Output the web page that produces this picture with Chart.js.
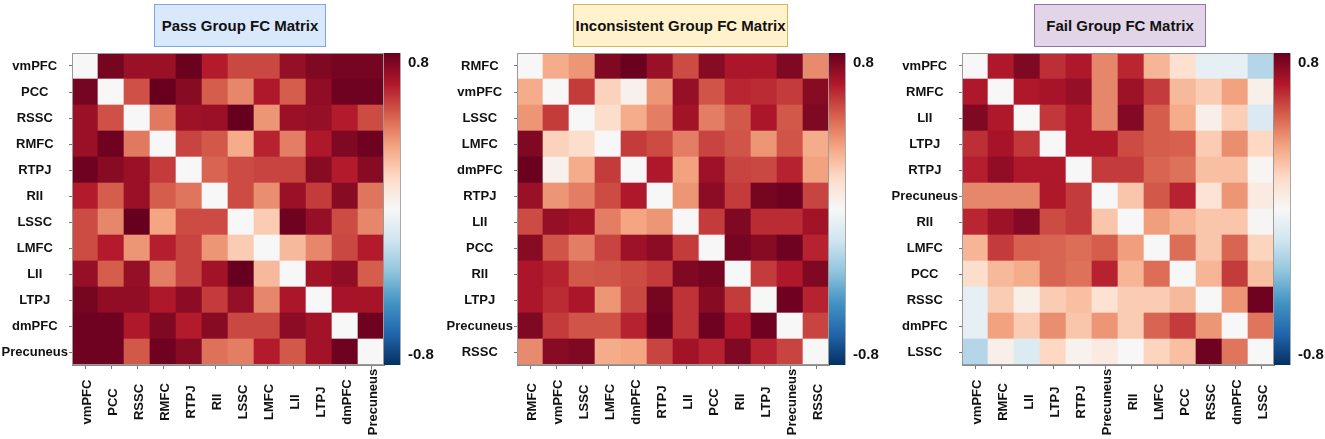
<!DOCTYPE html>
<html><head><meta charset="utf-8">
<script src="https://cdn.jsdelivr.net/npm/chart.js@4.4.0/dist/chart.umd.min.js"></script>
<style>
html,body{margin:0;padding:0;background:#fff;width:1325px;height:439px;overflow:hidden;position:relative;}
.panel{position:absolute;top:0;width:435px;height:439px;}
.title{position:absolute;top:4px;height:43px;box-sizing:border-box;display:flex;align-items:center;justify-content:center;font:bold 15px "Liberation Sans",Arial,sans-serif;color:#111;white-space:nowrap;}
</style></head><body>
<div class="panel" style="left:0px"><canvas id="c1" width="435" height="439"></canvas></div>
<div class="panel" style="left:445px"><canvas id="c2" width="435" height="439"></canvas></div>
<div class="panel" style="left:890px"><canvas id="c3" width="435" height="439"></canvas></div>
<div class="title" style="left:154px;width:172px;background:#dae8fc;border:1.5px solid #7ea6e0">Pass Group FC Matrix</div>
<div class="title" style="left:573px;width:215px;background:#fff2cc;border:1.5px solid #d6b656">Inconsistent Group FC Matrix</div>
<div class="title" style="left:1034px;width:172px;background:#e1d5e7;border:1.5px solid #9673a6">Fail Group FC Matrix</div>
<script>
// ---------- data ----------
const passLabels = ['vmPFC','PCC','RSSC','RMFC','RTPJ','RII','LSSC','LMFC','LII','LTPJ','dmPFC','Precuneus'];
const passValues = [
  [0, 0.82, 0.74, 0.74, 0.85, 0.68, 0.57, 0.57, 0.75, 0.80, 0.82, 0.82],
  [0.82, 0, 0.55, 0.86, 0.78, 0.52, 0.42, 0.69, 0.52, 0.76, 0.84, 0.84],
  [0.74, 0.55, 0, 0.45, 0.73, 0.74, 0.86, 0.38, 0.74, 0.75, 0.68, 0.56],
  [0.74, 0.84, 0.45, 0, 0.58, 0.53, 0.32, 0.66, 0.44, 0.69, 0.80, 0.84],
  [0.84, 0.78, 0.74, 0.60, 0, 0.50, 0.56, 0.58, 0.58, 0.78, 0.68, 0.78],
  [0.68, 0.52, 0.74, 0.52, 0.46, 0, 0.56, 0.40, 0.74, 0.60, 0.78, 0.46],
  [0.56, 0.42, 0.86, 0.34, 0.56, 0.56, 0, 0.22, 0.84, 0.75, 0.56, 0.42],
  [0.56, 0.68, 0.38, 0.67, 0.58, 0.38, 0.22, 0, 0.28, 0.42, 0.57, 0.68],
  [0.75, 0.52, 0.75, 0.44, 0.58, 0.72, 0.86, 0.28, 0, 0.72, 0.76, 0.52],
  [0.82, 0.76, 0.76, 0.69, 0.77, 0.60, 0.75, 0.42, 0.70, 0, 0.71, 0.71],
  [0.84, 0.84, 0.69, 0.80, 0.68, 0.78, 0.57, 0.57, 0.77, 0.72, 0, 0.84],
  [0.84, 0.84, 0.53, 0.84, 0.78, 0.47, 0.44, 0.68, 0.53, 0.72, 0.84, 0]
];
const incLabels = ['RMFC','vmPFC','LSSC','LMFC','dmPFC','RTPJ','LII','PCC','RII','LTPJ','Precuneus','RSSC'];
const incValues = [
  [0, 0.32, 0.38, 0.80, 0.85, 0.74, 0.56, 0.78, 0.70, 0.70, 0.80, 0.41],
  [0.32, 0, 0.60, 0.20, 0.04, 0.38, 0.75, 0.54, 0.65, 0.64, 0.60, 0.78],
  [0.38, 0.60, 0, 0.15, 0.32, 0.44, 0.72, 0.44, 0.53, 0.70, 0.53, 0.80],
  [0.80, 0.20, 0.15, 0, 0.60, 0.56, 0.44, 0.58, 0.54, 0.38, 0.54, 0.32],
  [0.85, 0.04, 0.32, 0.60, 0, 0.69, 0.35, 0.73, 0.58, 0.57, 0.66, 0.35],
  [0.74, 0.38, 0.44, 0.56, 0.69, 0, 0.38, 0.77, 0.60, 0.82, 0.84, 0.58],
  [0.56, 0.75, 0.72, 0.44, 0.34, 0.38, 0, 0.60, 0.80, 0.64, 0.64, 0.72],
  [0.78, 0.54, 0.44, 0.58, 0.73, 0.77, 0.60, 0, 0.82, 0.78, 0.84, 0.66],
  [0.70, 0.66, 0.53, 0.54, 0.56, 0.60, 0.80, 0.82, 0, 0.60, 0.69, 0.80],
  [0.70, 0.64, 0.70, 0.38, 0.57, 0.82, 0.62, 0.78, 0.60, 0, 0.84, 0.66],
  [0.80, 0.60, 0.54, 0.54, 0.66, 0.84, 0.62, 0.84, 0.69, 0.84, 0, 0.58],
  [0.41, 0.78, 0.80, 0.32, 0.34, 0.58, 0.72, 0.66, 0.80, 0.66, 0.58, 0]
];
const failLabels = ['vmPFC','RMFC','LII','LTPJ','RTPJ','Precuneus','RII','LMFC','PCC','RSSC','dmPFC','LSSC'];
const failValues = [
  [0, 0.69, 0.80, 0.63, 0.69, 0.42, 0.65, 0.29, 0.14, -0.08, -0.08, -0.25],
  [0.69, 0, 0.69, 0.71, 0.75, 0.42, 0.73, 0.60, 0.28, 0.22, 0.35, 0.05],
  [0.80, 0.69, 0, 0.61, 0.69, 0.42, 0.79, 0.52, 0.32, 0.05, 0.21, -0.13],
  [0.63, 0.71, 0.61, 0, 0.69, 0.69, 0.56, 0.52, 0.51, 0.22, 0.40, 0.18],
  [0.67, 0.76, 0.69, 0.69, 0, 0.60, 0.60, 0.50, 0.47, 0.26, 0.26, 0.02],
  [0.42, 0.42, 0.42, 0.69, 0.60, 0, 0.24, 0.53, 0.66, 0.12, 0.38, 0.08],
  [0.65, 0.73, 0.79, 0.56, 0.60, 0.24, 0, 0.36, 0.29, 0.24, 0.24, 0.01],
  [0.29, 0.60, 0.51, 0.50, 0.48, 0.52, 0.36, 0, 0.48, 0.24, 0.50, 0.19],
  [0.15, 0.28, 0.32, 0.50, 0.47, 0.66, 0.29, 0.48, 0, 0.29, 0.60, 0.26],
  [-0.08, 0.22, 0.05, 0.22, 0.26, 0.13, 0.22, 0.22, 0.28, 0, 0.38, 0.84],
  [-0.08, 0.35, 0.22, 0.40, 0.24, 0.38, 0.22, 0.50, 0.60, 0.38, 0, 0.46],
  [-0.25, 0.05, -0.12, 0.18, 0.03, 0.08, 0.00, 0.19, 0.26, 0.84, 0.46, 0]
];
const colorbarTicks = [0.8, -0.8];
const VMAX = 0.855;
const STOPS = ['#053061','#2166ac','#4393c3','#92c5de','#d1e5f0','#f7f7f7','#fddbc7','#f4a582','#d6604d','#b2182b','#67001f'];

// ---------- helpers ----------
function hexRgb(c){return [parseInt(c.slice(1,3),16),parseInt(c.slice(3,5),16),parseInt(c.slice(5,7),16)];}
function colorFor(v){
  const cv = Math.max(-VMAX, Math.min(VMAX, v));
  const t = (cv + VMAX) / (2*VMAX) * (STOPS.length-1);
  const i = Math.min(STOPS.length-2, Math.floor(t));
  const f = t - i;
  const a = hexRgb(STOPS[i]), b = hexRgb(STOPS[i+1]);
  return 'rgb(' + a.map((x,k)=>Math.round(x + (b[k]-x)*f)).join(',') + ')';
}
Chart.defaults.font.family = '"Liberation Sans", Arial, sans-serif';

const decor = {
  id: 'decor',
  afterDraw(chart){
    const ctx = chart.ctx, xs = chart.scales.x, y2 = chart.scales.y2, ca = chart.chartArea;
    ctx.save();
    // rotated, centered column labels at the scale's tick positions
    ctx.font = 'bold 13px "Liberation Sans", Arial, sans-serif';
    ctx.fillStyle = '#111';
    ctx.textAlign = 'center';
    ctx.textBaseline = 'middle';
    xs.getLabels().forEach((lab, i) => {
      const x = xs.getPixelForTick(i);
      ctx.save();
      ctx.translate(x + 2, ca.bottom + 37);
      ctx.rotate(-Math.PI/2);
      ctx.fillText(lab, 0, 0);
      ctx.restore();
    });
    // colour bar along the y2 scale
    const top = y2.getPixelForValue(VMAX), bot = y2.getPixelForValue(-VMAX);
    const g = ctx.createLinearGradient(0, top, 0, bot);
    STOPS.forEach((c, i) => g.addColorStop(1 - i/(STOPS.length-1), c));
    ctx.fillStyle = g;
    ctx.fillRect(ca.right, top, 16, bot - top);
    ctx.strokeStyle = '#9a9a9a';
    ctx.lineWidth = 1;
    ctx.strokeRect(ca.left + 0.5, ca.top + 0.5, ca.right - ca.left - 1, ca.bottom - ca.top - 1);
    ctx.beginPath();
    ctx.moveTo(ca.right + 16.5, top); ctx.lineTo(ca.right + 16.5, bot);
    ctx.strokeStyle = '#aaa';
    ctx.stroke();
    ctx.restore();
  }
};

function makeChart(id, labels, values){
  const n = labels.length;
  const datasets = labels.map((_, k) => {
    const r = n - 1 - k; // first dataset is the bottom row
    return {
      label: labels[r],
      data: labels.map(() => 1),
      backgroundColor: values[r].map(colorFor),
      borderWidth: 0,
      barPercentage: 1,
      categoryPercentage: 1
    };
  });
  new Chart(document.getElementById(id), {
    type: 'bar',
    data: { labels: labels, datasets: datasets },
    plugins: [decor],
    options: {
      responsive: false,
      animation: false,
      events: [],
      layout: { padding: { top: 53, left: 0, right: 0, bottom: 0 } },
      plugins: { legend: { display: false }, tooltip: { enabled: false } },
      scales: {
        x: {
          type: 'category', stacked: true, offset: true,
          grid: { display: true, drawOnChartArea: false, drawTicks: true, tickLength: 4, offset: false, color: '#777' },
          border: { display: true, color: '#888' },
          ticks: { display: false },
          afterFit(a){ a.height = 74; }
        },
        y: {
          type: 'linear', stacked: true, min: 0, max: n,
          afterBuildTicks(a){ a.ticks = labels.map((_, i) => ({ value: n - 0.5 - i })); },
          ticks: {
            autoSkip: false, crossAlign: 'center', padding: 1, color: '#111',
            font: { size: 13, weight: 'bold' },
            callback: (v) => labels[Math.round(n - 0.5 - v)]
          },
          grid: { display: true, drawOnChartArea: false, drawTicks: true, tickLength: 3, color: '#777' },
          border: { display: true, color: '#888' },
          afterFit(a){ a.width = 72; }
        },
        y2: {
          type: 'linear', position: 'right', min: -VMAX, max: VMAX,
          afterBuildTicks(a){ a.ticks = colorbarTicks.map(v => ({ value: v })); },
          grid: { display: false, drawTicks: false },
          border: { display: false },
          ticks: {
            autoSkip: false, padding: 24, color: '#111',
            font: { size: 15, weight: 'bold' },
            callback: (v) => v.toFixed(1)
          },
          afterFit(a){ a.width = 51; }
        }
      }
    }
  });
}

makeChart('c1', passLabels, passValues);
makeChart('c2', incLabels, incValues);
makeChart('c3', failLabels, failValues);
</script>
</body></html>
